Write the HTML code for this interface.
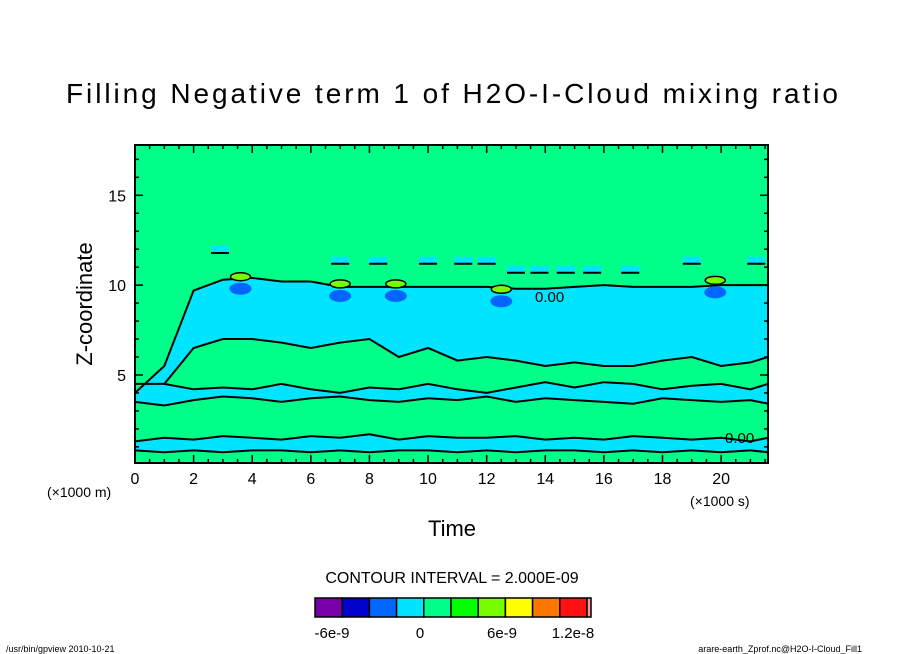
<!DOCTYPE html>
<html><head><meta charset="utf-8"><style>
html,body{margin:0;padding:0;background:#fff;}
svg{display:block;font-family:"Liberation Sans","DejaVu Sans",sans-serif;}
</style></head><body>
<svg id="chart" width="904" height="654" viewBox="0 0 904 654">
<text x="452" y="103" text-anchor="middle" font-size="28" textLength="772">Filling Negative term 1 of H2O-I-Cloud mixing ratio</text>
<g id="plot"></g>
<text transform="translate(92,304) rotate(-90)" text-anchor="middle" font-size="22">Z-coordinate</text>
<text x="452" y="536" text-anchor="middle" font-size="22">Time</text>
<text x="47" y="497" font-size="14">(×1000 m)</text>
<text x="690" y="506" font-size="14">(×1000 s)</text>
<text x="452" y="583" text-anchor="middle" font-size="16">CONTOUR INTERVAL = 2.000E-09</text>
<g id="cbar"></g>
<text x="6" y="652" font-size="9">/usr/bin/gpview  2010-10-21</text>
<text x="862" y="652" text-anchor="end" font-size="9">arare-earth_Zprof.nc@H2O-I-Cloud_Fill1</text>
</svg>
<script>
const times=[0,1,2,3,4,5,6,7,8,9,10,11,12,13,14,15,16,17,18,19,20,21,21.6];
const cloudTop=[4.0,5.5,9.7,10.3,10.4,10.2,10.2,9.9,9.9,9.9,9.9,9.9,9.9,9.8,9.8,9.9,10.0,9.9,9.9,9.9,10.0,10.0,10.0];
const bandATop=[4.5,4.5,6.5,7.0,7.0,6.8,6.5,6.8,7.0,6.0,6.5,5.8,6.0,5.8,5.5,5.7,5.5,5.5,5.8,6.0,5.5,5.7,6.0];
const bandABot=[4.5,4.5,4.2,4.3,4.2,4.5,4.2,4.0,4.3,4.2,4.5,4.2,4.0,4.3,4.6,4.3,4.6,4.5,4.2,4.4,4.5,4.2,4.5];
const bandBTop=[3.5,3.3,3.6,3.8,3.7,3.5,3.7,3.8,3.6,3.5,3.7,3.6,3.8,3.5,3.7,3.6,3.5,3.4,3.7,3.6,3.5,3.6,3.4];
const bandBBot=[1.3,1.5,1.4,1.6,1.5,1.4,1.6,1.5,1.7,1.4,1.6,1.5,1.5,1.6,1.4,1.5,1.4,1.6,1.5,1.4,1.5,1.3,1.5];
const bandCTop=[0.8,0.7,0.8,0.7,0.8,0.8,0.7,0.8,0.7,0.8,0.8,0.7,0.8,0.7,0.8,0.8,0.7,0.8,0.7,0.8,0.7,0.8,0.7];
const iceT=[2.9,7.0,8.3,10.0,11.2,12.0,13.0,13.8,14.7,15.6,16.9,19.0,21.2];
const iceZ=[11.9,11.3,11.3,11.3,11.3,11.3,10.8,10.8,10.8,10.8,10.8,11.3,11.3];
const blobT=[3.6,7.0,8.9,12.5,19.8];
const blobZ=[9.8,9.4,9.4,9.1,9.6];
const xTicks=[0,2,4,6,8,10,12,14,16,18,20];
const yTicks=[5,10,15];
const cbarLabels=["-6e-9","0","6e-9","1.2e-8"];
const cbarColors=["#7700aa","#0000cc","#0066ff","#00e5ff","#00ff88","#00ff00","#77ff00","#ffff00","#ff7700","#ff1111"];
const X0=135,X1=768,Y0=145,Y1=463;
const xs=t=>X0+(t/21.6)*(X1-X0);
const ys=z=>463-(z-0.1)*(463-145)/(17.8-0.1);
const NS='http://www.w3.org/2000/svg';
const plot=document.getElementById('plot');
function mk(tag,attrs,parent){const e=document.createElementNS(NS,tag);for(const k in attrs)e.setAttribute(k,attrs[k]);parent.appendChild(e);return e;}
let r=mk('rect',{x:X0,y:Y0,width:X1-X0,height:Y1-Y0,fill:'#00ff88'},plot);


function bandPath(top,bot){let d='';times.forEach((t,i)=>{d+=(i?'L':'M')+xs(t).toFixed(1)+','+ys(top[i]).toFixed(1);});for(let i=times.length-1;i>=0;i--)d+='L'+xs(times[i]).toFixed(1)+','+ys(bot[i]).toFixed(1);return d+'Z';}
const zero=times.map(()=>0.1);
let p=mk('path',{d:bandPath(cloudTop,zero),fill:'#00e5ff',stroke:'#000','stroke-width':2},plot);


p=mk('path',{d:bandPath(bandATop,bandABot),fill:'#00ff88',stroke:'#000','stroke-width':2},plot);


p=mk('path',{d:bandPath(bandBTop,bandBBot),fill:'#00ff88',stroke:'#000','stroke-width':2},plot);


p=mk('path',{d:bandPath(bandCTop,zero),fill:'#00ff88',stroke:'#000','stroke-width':2},plot);


iceT.forEach((t,i)=>{const e=mk('rect',{x:xs(t)-9,y:ys(iceZ[i])-5,width:18,height:7,fill:'#00e5ff'},plot);


mk('line',{x1:xs(t)-9,x2:xs(t)+9,y1:ys(iceZ[i])+2,y2:ys(iceZ[i])+2,stroke:'#000','stroke-width':2},plot);});
blobT.forEach((t,i)=>{const e=mk('ellipse',{cx:xs(t),cy:ys(blobZ[i]),rx:11,ry:6,fill:'#0066ff'},plot);


mk('ellipse',{cx:xs(t),cy:ys(blobZ[i])-12,rx:10,ry:4,fill:'#77ff00',stroke:'#000','stroke-width':1.5},plot);});
let lb=mk('text',{x:535,y:302,'font-size':15},plot);lb.textContent='0.00';


lb=mk('text',{x:725,y:443,'font-size':15},plot);lb.textContent='0.00';


// frame & ticks
r=mk('rect',{x:X0,y:Y0,width:X1-X0,height:Y1-Y0,fill:'none',stroke:'#000','stroke-width':2},plot);


for(let t=0;t<=21.6;t+=0.5){const maj=Math.abs(t%2)<0.01,L=maj?8:4;
mk('line',{x1:xs(t),x2:xs(t),y1:Y1,y2:Y1-L,stroke:'#000','stroke-width':1.5},plot);
mk('line',{x1:xs(t),x2:xs(t),y1:Y0,y2:Y0+L,stroke:'#000','stroke-width':1.5},plot);}
for(let z=1;z<=17;z++){const L=z%5===0?8:4;
mk('line',{x1:X0,x2:X0+L,y1:ys(z),y2:ys(z),stroke:'#000','stroke-width':1.5},plot);
mk('line',{x1:X1,x2:X1-L,y1:ys(z),y2:ys(z),stroke:'#000','stroke-width':1.5},plot);}
xTicks.forEach(t=>{const e=mk('text',{x:xs(t),y:484,'text-anchor':'middle','font-size':16},plot);e.textContent=t;

});
yTicks.forEach(z=>{const e=mk('text',{x:126,y:ys(z)+6,'text-anchor':'end','font-size':16},plot);e.textContent=z;

});
// colorbar
const cb=document.getElementById('cbar');const cw=27.2;
cbarColors.forEach((c,i)=>{const e=mk('rect',{x:315+i*cw,y:598,width:cw,height:19,fill:c,stroke:'#000','stroke-width':1.5},cb);

});
let pk=mk('rect',{x:315+10*cw,y:598,width:4,height:19,fill:'#ff9999',stroke:'#000','stroke-width':1.5},cb);


const lx=[332,420,502,573];
cbarLabels.forEach((s,i)=>{const e=mk('text',{x:lx[i],y:638,'text-anchor':'middle','font-size':15},cb);e.textContent=s;

});
</script>
</body></html>
